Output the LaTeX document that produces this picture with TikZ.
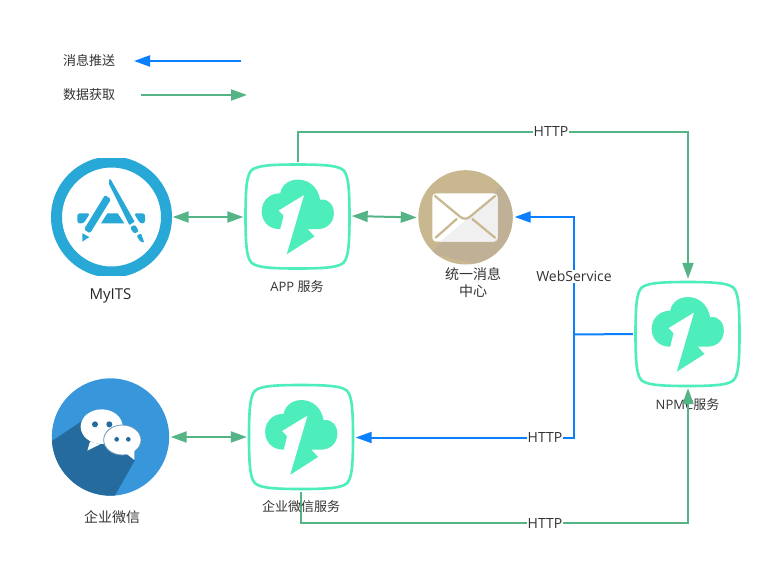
\documentclass[tikz,border=0pt]{standalone}
\usepackage{fontspec}
\setmainfont{Open Sans}
\newfontfamily\cjk{Noto Sans CJK SC}
\usetikzlibrary{arrows.meta,calc}
\definecolor{cyanic}{HTML}{4DEDBC}
\definecolor{dgreen}{HTML}{55B486}
\definecolor{pblue}{HTML}{0A80FF}
\definecolor{storeblue}{HTML}{27A8D6}
\definecolor{tan1}{HTML}{C9B88F}
\definecolor{tan2}{HTML}{BFB096}
\definecolor{wxblue}{HTML}{3896DB}
\definecolor{wxdark}{HTML}{266B9E}
\definecolor{txt}{HTML}{333333}
\tikzset{
  x=1pt,y=-1pt,
  >={Triangle[length=16pt,width=11pt]},
  greenline/.style={draw=dgreen,line width=2pt},
  blueline/.style={draw=pblue,line width=2pt},
  lab/.style={text=txt,font=\fontsize{13}{15}\selectfont,inner sep=1pt,align=center},
  biglab/.style={lab,font=\fontsize{14}{17}\selectfont},
  linelab/.style={biglab,fill=white,inner sep=1pt},
  boxnode/.style={rectangle,minimum width=109pt,minimum height=109pt,inner sep=0pt},
  roundnode/.style={circle,inner sep=0pt},
  cloudbox/.pic={
    \draw[cyanic,line width=2.6pt,line join=round]
      (0,-52) .. controls (18,-52) and (32,-51.5) .. (39,-49.5)
      .. controls (46,-47.5) and (47.5,-46) .. (49.5,-39)
      .. controls (51.5,-32) and (52,-18) .. (52,0)
      .. controls (52,18) and (51.5,32) .. (49.5,39)
      .. controls (47.5,46) and (46,47.5) .. (39,49.5)
      .. controls (32,51.5) and (18,52) .. (0,52)
      .. controls (-18,52) and (-32,51.5) .. (-39,49.5)
      .. controls (-46,47.5) and (-47.5,46) .. (-49.5,39)
      .. controls (-51.5,32) and (-52,18) .. (-52,0)
      .. controls (-52,-18) and (-51.5,-32) .. (-49.5,-39)
      .. controls (-47.5,-46) and (-46,-47.5) .. (-39,-49.5)
      .. controls (-32,-51.5) and (-18,-52) .. (0,-52) -- cycle;
    \fill[cyanic]
      (6.7,-21.7) -- (-19,-6) -- (-14,-0.7) -- (-17.3,12.7)
      .. controls (-42,13) and (-42,-23) .. (-17.3,-23.3)
      .. controls (-14,-42) and (18,-43) .. (22.7,-16.7)
      .. controls (40,-20) and (43,13) .. (19,12.7)
      -- (10.3,12.7) -- (17,20) -- (-10.7,37.7) -- cycle;
  }
}
\begin{document}
\begin{tikzpicture}
\useasboundingbox[fill=white] (0,0) rectangle (774,563);

% named nodes for the icons
\node[roundnode,minimum size=122pt] (myits) at (111.5,217) {};
\node[boxnode] (app) at (297.5,216.5) {};
\node[roundnode,minimum size=97pt] (mail) at (465.5,217) {};
\node[roundnode,minimum size=120pt] (wx) at (110.5,437) {};
\node[boxnode] (wxsvc) at (301,437) {};
\node[boxnode] (npm) at (687.5,334) {};

% MyITS icon
\begin{scope}
  \clip (40,158.5) rectangle (185,275.5);
  \fill[storeblue,even odd rule] (111.5,217) circle[radius=60.5] (111.5,217) circle[radius=49.5];
\end{scope}
\begin{scope}[shift={(70,170)},scale=1/3,storeblue]
  \fill[rounded corners=1.5pt] (105,75) -- (123,88) -- (60,190) -- (42,178) -- cycle;
  \fill (37,190) -- (58,201) -- (37,215) -- cycle;
  \fill[rounded corners=0.5pt] (117,28) -- (122,28) -- (194,155) -- (178,165) -- (117,42) -- cycle;
  \fill[rounded corners=1.5pt] (180,172) -- (195,164) -- (207,184) -- (192,191) -- cycle;
  \fill[rounded corners=1pt] (200,197) -- (213,190) -- (223,218) -- (210,214) -- cycle;
  \fill[rounded corners=2.5pt] (22,130) -- (60,130) -- (41,160) -- (22,160) -- cycle;
  \fill (112,130) -- (143,130) -- (163,160) -- (93,160) -- cycle;
  \fill[rounded corners=2.5pt] (192,130) -- (225,130) -- (225,160) -- (210,160) -- cycle;
\end{scope}

% mail icon
\begin{scope}[shift={(400,160)},scale=1/3]
  \fill[tan1] (196.5,172) circle[radius=141.5];
  \begin{scope}
    \clip (196.5,172) circle[radius=141.5];
    \fill[tan2] (310,70) -- (90,280) -- (360,340) -- (360,70) -- cycle;
  \end{scope}
\end{scope}
\begin{scope}[shift={(425,185)},scale=1/3]
  \fill[white,rounded corners=4pt] (22,25) rectangle (218,170);
  \begin{scope}
    \clip[rounded corners=4pt] (22,25) rectangle (218,170);
    \fill[black!6] (218,25) -- (45,170) -- (218,170) -- cycle;
  \end{scope}
  \draw[tan1,line width=2.2pt,line cap=round,line join=round]
    (30,33) -- (105,95) .. controls (113,103) and (127,103) .. (135,95) -- (210,33);
  \draw[tan1,line width=2.2pt,line cap=round] (32,158) -- (95,102);
  \draw[tan1,line width=2.2pt,line cap=round] (210,158) -- (142,102);
\end{scope}

% WeChat icon
\begin{scope}[shift={(30,370)},scale=1/3]
  \fill[wxblue] (241.5,201) circle[radius=176];
  \begin{scope}
    \clip (241.5,201) circle[radius=176];
    \fill[wxdark] (60,217) -- (160,150) -- (315,270) -- (250,385) -- (60,385) -- cycle;
  \end{scope}
\end{scope}
\begin{scope}[shift={(70,400)},scale=1/3]
  \fill[white] (95,80) ellipse[x radius=63,y radius=52];
  \fill[white] (60,125) -- (52,152) -- (90,133) -- cycle;
  \fill[white,draw=wxdark!70,line width=0.8pt] (157,120) ellipse[x radius=56,y radius=45];
  \fill[white] (168,160) -- (193,180) -- (193,148) -- cycle;
  \fill[wxdark] (75,73) circle[radius=9] (118,73) circle[radius=9]
                (140,118) circle[radius=7] (175,118) circle[radius=7];
\end{scope}

% service icons
\pic at (app.center) {cloudbox};
\pic at (wxsvc.center) {cloudbox};
\pic at (npm.center) {cloudbox};

% text labels
\node[lab] (legendpush) at (89,60.5) {\cjk 消息推送};
\node[lab] (legendpull) at (89,94.5) {\cjk 数据获取};
\node[lab,font=\fontsize{15}{17}\selectfont,text=black!85] (myitslab) at (110.5,296) {MyITS};
\node[lab] (applab) at (297,287) {APP {\cjk 服务}};
\node[biglab] (maillab) at (473,282.5) {\cjk 统一消息\\\cjk 中心};
\node[biglab] (wxlab) at (112,517) {\cjk 企业微信};
\node[lab] (npmlab) at (687.5,405) {NPMC{\cjk 服务}};

% legend arrows
\coordinate (lb1) at (241,61);
\coordinate (lb2) at (134,61);
\coordinate (lg1) at (141,95);
\coordinate (lg2) at (247,95);
\draw[blueline,->] (lb1) -- (lb2);
\draw[greenline,->] (lg1) -- (lg2);

% green connectors
\draw[greenline,<->] (myits.east) -- ($(app.west)+(0.5,0.5)$);
\draw[greenline,<->] ($(app.east)+(-0.5,-0.5)$) -- ($(mail.west)+(0,0.5)$);
\draw[greenline,<->] (wx.east) -- ($(wxsvc.west)+(0.5,0)$);
\draw[greenline,->] (app.north) |- (298,131.5) -| ($(npm.north)+(0.5,-0.5)$);
\draw[greenline,->] (wxsvc.south) |- (301,522.5) -| ($(npm.south)+(0.5,-0.5)$);

% blue connectors
\coordinate (junction) at (574,334.5);
\draw[blueline] (npm.west) -- (junction);
\draw[blueline,->] (junction) |- ($(mail.east)+(0.5,0)$);
\draw[blueline,->] (junction) |- ($(wxsvc.east)+(0,0.5)$);

% connector labels
\node[linelab] (l1) at (551,131.5) {HTTP};
\node[linelab] (l2) at (574,276.5) {WebService};
\node[linelab] (l3) at (545,437.5) {HTTP};
\node[linelab] (l4) at (545,523) {HTTP};
\node[lab] (wxsvclab) at (301,507) {\cjk 企业微信服务};
\end{tikzpicture}
\end{document}
